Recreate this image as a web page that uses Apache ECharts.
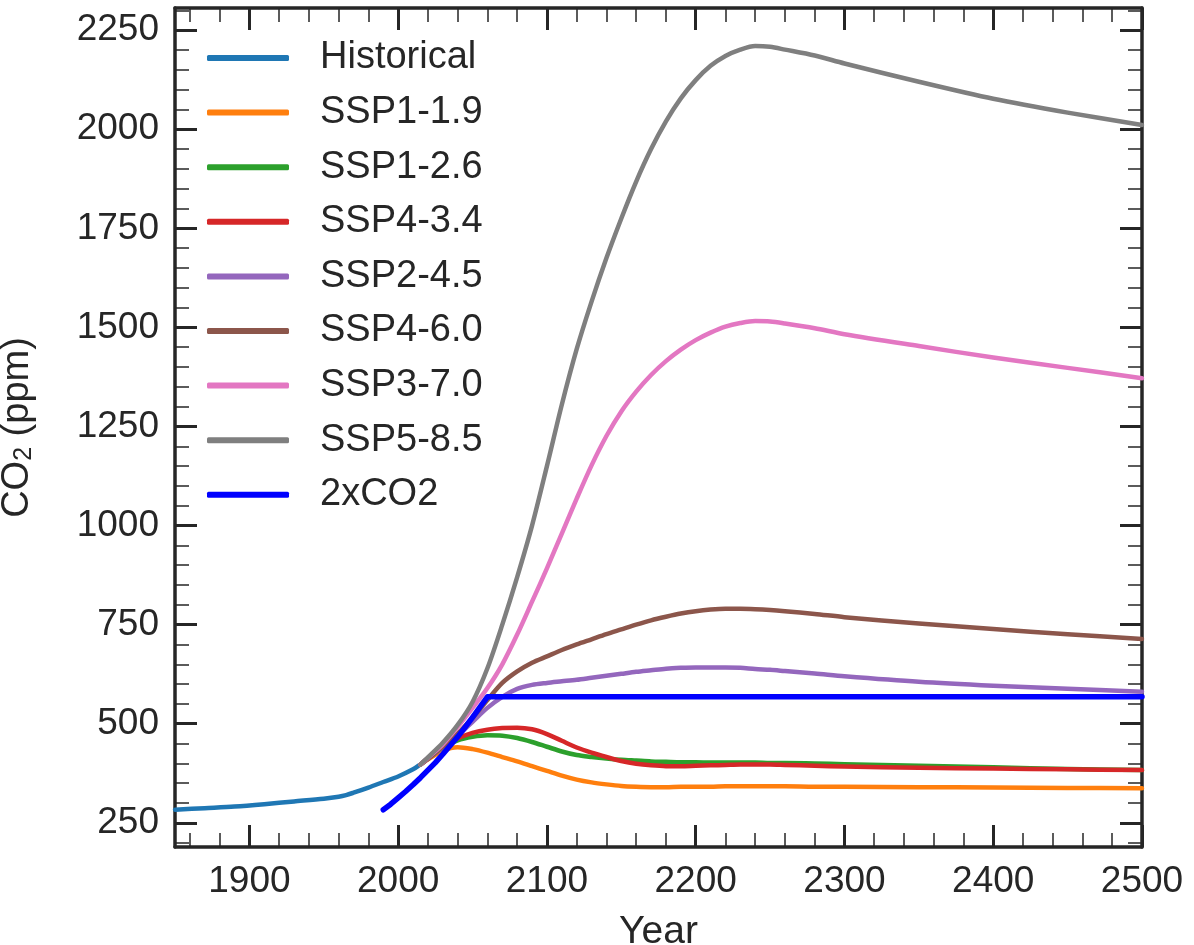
<!DOCTYPE html>
<html>
<head>
<meta charset="utf-8">
<script src="https://cdn.jsdelivr.net/npm/echarts@6/dist/echarts.min.js"></script>
<style>
html,body{margin:0;padding:0;background:#fff;}
#chart{width:1194px;height:945px;}
</style>
</head>
<body>
<div id="chart"></div>
<script>
// ---------------- data ----------------
const seriesNames = ['Historical','SSP1-1.9','SSP1-2.6','SSP4-3.4','SSP2-4.5','SSP4-6.0','SSP3-7.0','SSP5-8.5','2xCO2'];
const seriesColors = ['#1f77b4','#ff7f0e','#2ca02c','#d62728','#9467bd','#8c564b','#e377c2','#7f7f7f','#0000ff'];

const histYears  = [1850,1870,1890,1910,1930,1950,1960,1965,1970,1980,1990,2000,2010,2014];
const histValues = [283, 287, 291, 297, 304, 311, 316, 320, 326, 339, 353, 367, 385, 395];

const sspYears = [2015,2020,2030,2040,2050,2060,2070,2080,2090,2100,2110,2120,2130,2140,2150,2160,2170,2180,2190,2200,2210,2220,2230,2240,2250,2260,2280,2300,2350,2400,2450,2500];
const ssp119 = [397,410,432,441,436,427,416,405,393,381,369,359,352,347,343,341,340,340,341,341,341,342,342,342,342,342,341,341,340,339,338,337];
const ssp126 = [397,412,440,458,467,471,470,464,454,442,430,421,416,412,409,407,405,404,403,403,402,402,402,402,401,401,400,398,394,390,386,383];
const ssp434 = [397,412,442,463,477,485,489,490,486,474,457,440,427,416,406,399,395,393,393,394,395,396,397,397,397,396,394,392,389,387,385,383];
const ssp245 = [397,412,440,470,505,540,568,588,598,603,607,611,616,621,626,631,635,639,641,642,642,642,641,638,636,633,627,620,606,596,588,581];
const ssp460 = [397,412,442,475,515,560,603,632,654,670,686,700,713,726,738,750,761,770,778,784,788,790,790,789,787,784,777,769,753,739,726,714];
const ssp370 = [397,414,448,492,540,590,650,725,808,892,980,1068,1152,1226,1288,1338,1380,1415,1444,1468,1487,1502,1511,1516,1515,1510,1498,1483,1453,1424,1398,1372];
const ssp585 = [397,415,452,497,555,640,750,870,1000,1150,1305,1445,1565,1675,1775,1868,1950,2020,2078,2124,2160,2185,2201,2210,2208,2201,2186,2166,2120,2077,2042,2011];

const dblYears  = [1990,1995,2000,2005,2010,2015,2020,2025,2030,2035,2040,2045,2050,2055,2060,2500];
const dblValues = [283, 297, 313, 329, 346, 364, 383, 402, 423, 445, 467, 491, 516, 542, 568, 568];

const xMajorTicks = [1900,2000,2100,2200,2300,2400,2500];
const xMinorTicks = [1860,1880,1920,1940,1960,1980,2020,2040,2060,2080,2120,2140,2160,2180,2220,2240,2260,2280,2320,2340,2360,2380,2420,2440,2460,2480];
const yMajorTicks = [250,500,750,1000,1250,1500,1750,2000,2250];
const yMinorTicks = [200,300,350,400,450,550,600,650,700,800,850,900,950,1050,1100,1150,1200,1300,1350,1400,1450,1550,1600,1650,1700,1800,1850,1900,1950,2050,2100,2150,2200,2300];

const X_MIN = 1850, X_MAX = 2500, Y_MIN = 189, Y_MAX = 2306;

// ---------------- build ----------------
const zip = (xs, ys) => xs.map((x, i) => [x, ys[i]]);
const seriesData = [
  zip(histYears, histValues),
  zip(sspYears, ssp119),
  zip(sspYears, ssp126),
  zip(sspYears, ssp434),
  zip(sspYears, ssp245),
  zip(sspYears, ssp460),
  zip(sspYears, ssp370),
  zip(sspYears, ssp585),
  zip(dblYears, dblValues)
];

const INK = '#262626';
const FONT = '"Liberation Sans", Arial, Helvetica, sans-serif';
const plain = v => String(v);

function axisBase(extra) {
  return Object.assign({
    type: 'value',
    splitLine: { show: false },
    axisLine: { show: false },
    axisLabel: { show: false },
    axisTick: { show: false }
  }, extra);
}
function majorTick(vals) {
  return { show: true, inside: true, length: 22, customValues: vals, lineStyle: { color: INK, width: 3 } };
}
function minorTick(vals) {
  return { show: true, inside: true, length: 14, customValues: vals, lineStyle: { color: INK, width: 1.5 } };
}
const frameLine = { show: true, onZero: false, lineStyle: { color: INK, width: 3.5 } };

const xAxes = [
  axisBase({
    min: X_MIN, max: X_MAX, position: 'bottom',
    axisLine: frameLine,
    axisTick: majorTick(xMajorTicks),
    axisLabel: { show: true, customValues: xMajorTicks, formatter: plain, fontSize: 37, fontFamily: FONT, color: INK, margin: 16 },
    name: 'Year', nameLocation: 'middle', nameGap: 66,
    nameTextStyle: { fontSize: 39, fontFamily: FONT, color: INK }
  }),
  axisBase({ min: X_MIN, max: X_MAX, position: 'bottom', axisTick: minorTick(xMinorTicks) }),
  axisBase({ min: X_MIN, max: X_MAX, position: 'top', axisLine: frameLine, axisTick: majorTick(xMajorTicks) }),
  axisBase({ min: X_MIN, max: X_MAX, position: 'top', axisTick: minorTick(xMinorTicks) })
];
const yAxes = [
  axisBase({
    min: Y_MIN, max: Y_MAX, position: 'left',
    axisLine: frameLine,
    axisTick: majorTick(yMajorTicks),
    axisLabel: { show: true, customValues: yMajorTicks, formatter: plain, fontSize: 37, fontFamily: FONT, color: INK, margin: 16 },
    name: '{a|CO}{s|2}{a| (ppm)}', nameLocation: 'middle', nameGap: 138, nameRotate: 90,
    nameTextStyle: {
      color: INK, fontFamily: FONT,
      rich: {
        a: { fontSize: 38, fontFamily: FONT, color: INK, lineHeight: 46, verticalAlign: 'bottom' },
        s: { fontSize: 25, fontFamily: FONT, color: INK, lineHeight: 38, verticalAlign: 'bottom' }
      }
    }
  }),
  axisBase({ min: Y_MIN, max: Y_MAX, position: 'left', axisTick: minorTick(yMinorTicks) }),
  axisBase({ min: Y_MIN, max: Y_MAX, position: 'right', axisLine: frameLine, axisTick: majorTick(yMajorTicks) }),
  axisBase({ min: Y_MIN, max: Y_MAX, position: 'right', axisTick: minorTick(yMinorTicks) })
];

const series = seriesNames.map((name, i) => ({
  name: name,
  type: 'line',
  xAxisIndex: 0,
  yAxisIndex: 0,
  data: seriesData[i],
  showSymbol: false,
  symbol: 'none',
  smooth: name === '2xCO2' ? false : 0.3,
  z: 2 + i,
  lineStyle: { color: seriesColors[i], width: name === '2xCO2' ? 5.5 : 4.5, cap: 'round', join: 'round' },
  itemStyle: { color: seriesColors[i] },
  emphasis: { disabled: true },
  animation: false
}));

const option = {
  animation: false,
  backgroundColor: '#ffffff',
  grid: { left: 175, right: 52, top: 8, bottom: 98, containLabel: false, outerBoundsMode: 'none' },
  legend: {
    left: 207, top: 38, orient: 'vertical', padding: 0,
    icon: 'roundRect', itemWidth: 82, itemHeight: 6, itemGap: 14.6,
    itemStyle: { borderWidth: 0 },
    textStyle: { fontSize: 38, fontFamily: FONT, color: INK, lineHeight: 40, padding: [0, 0, 0, 26] },
    data: seriesNames,
    selectedMode: false
  },
  xAxis: xAxes,
  yAxis: yAxes,
  series: series
};

const chart = echarts.init(document.getElementById('chart'), null, { renderer: 'canvas' });
chart.setOption(option);
</script>
</body>
</html>
